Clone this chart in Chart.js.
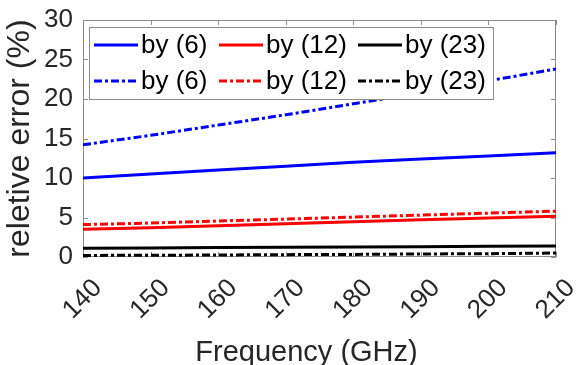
<!DOCTYPE html>
<html>
<head>
<meta charset="utf-8">
<script src="https://cdn.jsdelivr.net/npm/chart.js@4.4.1/dist/chart.umd.min.js"></script>
<style>
html, body { margin: 0; padding: 0; background: #fff; }
#wrap { width: 581px; height: 365px; }
</style>
</head>
<body>
<div id="wrap"><canvas id="errChart"></canvas></div>
<script>
// values, relative error in % vs frequency in GHz
var freqs = [140, 150, 160, 170, 180, 190, 200, 210];
var by6Solid = [10.0, 10.5, 11.0, 11.5, 12.0, 12.4, 12.8, 13.2];
var by12Solid = [3.5, 3.7, 3.95, 4.2, 4.45, 4.7, 4.95, 5.15];
var by23Solid = [1.1, 1.15, 1.2, 1.22, 1.27, 1.3, 1.35, 1.4];
var by6Dash = [14.2, 15.4, 16.7, 18.0, 19.4, 20.8, 22.3, 23.8];
var by12Dash = [4.1, 4.3, 4.55, 4.8, 5.05, 5.3, 5.55, 5.8];
var by23Dash = [0.2, 0.22, 0.25, 0.3, 0.33, 0.38, 0.42, 0.5];
var seriesLabels = ['by (6)', 'by (12)', 'by (23)', 'by (6)', 'by (12)', 'by (23)'];
var xTitle = 'Frequency (GHz)';
var yTitle = 'reletive error (%)';
var yMin = 0, yMax = 30, yStep = 5;
var xMin = 140, xMax = 210, xStep = 10;

var dashDot = [8, 3, 3, 3];
var fontFam = "'Liberation Sans', Arial, Helvetica, sans-serif";

function pts(vals) {
	return freqs.map(function(f, i) { return { x: f, y: vals[i] }; });
}

function mkSet(label, vals, color, dash) {
	return {
		label: label,
		data: pts(vals),
		borderColor: color,
		backgroundColor: color,
		borderWidth: 3,
		borderDash: dash,
		borderCapStyle: 'butt',
		pointRadius: 0,
		fill: false,
		tension: 0
	};
}

// inside tick marks, the gray box and the x title
var boxPlugin = {
	id: 'boxPlugin',
	beforeDatasetsDraw: function(chart) {
		var ctx = chart.ctx, a = chart.chartArea;
		var xs = chart.scales.x, ys = chart.scales.y;
		ctx.save();
		ctx.strokeStyle = '#8c8c8c';
		ctx.lineWidth = 1;
		ctx.beginPath();
		xs.ticks.forEach(function(t) {
			var px = Math.round(xs.getPixelForValue(t.value)) + 0.5;
			ctx.moveTo(px, a.bottom); ctx.lineTo(px, a.bottom - 5);
			ctx.moveTo(px, a.top); ctx.lineTo(px, a.top + 5);
		});
		ys.ticks.forEach(function(t) {
			var py = Math.round(ys.getPixelForValue(t.value)) + 0.5;
			ctx.moveTo(a.left, py); ctx.lineTo(a.left + 5, py);
			ctx.moveTo(a.right, py); ctx.lineTo(a.right - 5, py);
		});
		ctx.stroke();
		ctx.strokeRect(Math.round(a.left) + 0.5, Math.round(a.top) + 0.5,
			Math.round(a.right - a.left) - 1, Math.round(a.bottom - a.top) - 1);

		ctx.fillStyle = '#262626';
		ctx.font = '29px ' + fontFam;
		ctx.textAlign = 'center';
		ctx.textBaseline = 'alphabetic';
		ctx.fillText(xTitle, (a.left + a.right) / 2 - 13, chart.height - 4);
		ctx.restore();
	}
};

// legend in 3 columns x 2 rows inside the axes
var legendPlugin = {
	id: 'legendPlugin',
	afterDatasetsDraw: function(chart) {
		var ctx = chart.ctx, a = chart.chartArea;
		var bx = Math.round(a.left) + 6, by = Math.round(a.top) + 7, bw = 404, bh = 72;
		var colX = [5, 130, 269], rowY = [18, 54];
		ctx.save();
		ctx.fillStyle = '#fff';
		ctx.fillRect(bx, by, bw, bh);
		ctx.strokeStyle = '#8c8c8c';
		ctx.lineWidth = 1;
		ctx.strokeRect(bx + 0.5, by + 0.5, bw, bh);
		ctx.font = '26px ' + fontFam;
		ctx.textBaseline = 'middle';
		ctx.textAlign = 'left';
		chart.data.datasets.forEach(function(ds, i) {
			var x0 = bx + colX[i % 3], y0 = by + rowY[Math.floor(i / 3)];
			ctx.strokeStyle = ds.borderColor;
			ctx.lineWidth = 3;
			ctx.lineCap = 'butt';
			ctx.setLineDash(ds.borderDash || []);
			ctx.beginPath();
			ctx.moveTo(x0, y0);
			ctx.lineTo(x0 + 44, y0);
			ctx.stroke();
			ctx.setLineDash([]);
			ctx.fillStyle = '#000';
			ctx.fillText(ds.label, x0 + 47, y0 + 1);
		});
		ctx.restore();
	}
};

var ctx = document.getElementById('errChart');
var errChart = new Chart(ctx, {
	type: 'line',
	data: {
		datasets: [
			mkSet(seriesLabels[0], by6Solid, '#0000ff', []),
			mkSet(seriesLabels[1], by12Solid, '#ff0000', []),
			mkSet(seriesLabels[2], by23Solid, '#000000', []),
			mkSet(seriesLabels[3], by6Dash, '#0000ff', dashDot),
			mkSet(seriesLabels[4], by12Dash, '#ff0000', dashDot),
			mkSet(seriesLabels[5], by23Dash, '#000000', dashDot)
		]
	},
	options: {
		responsive: true,
		maintainAspectRatio: false,
		animation: false,
		layout: { padding: { left: 0, top: 20, right: 25, bottom: 0 } },
		plugins: {
			legend: { display: false },
			tooltip: { enabled: false }
		},
		scales: {
			x: {
				type: 'linear',
				min: xMin,
				max: xMax,
				grid: { display: false, drawTicks: false },
				border: { display: false },
				ticks: {
					stepSize: xStep,
					minRotation: 45,
					maxRotation: 45,
					padding: 16,
					labelOffset: 15,
					color: '#262626',
					font: { family: fontFam, size: 26 }
				},
				title: { display: false },
				afterFit: function(scale) {
					scale.height = 108;
					scale.paddingLeft = 0;
					scale.paddingRight = 0;
				}
			},
			y: {
				min: yMin,
				max: yMax,
				grid: { display: false, drawTicks: false },
				border: { display: false },
				ticks: {
					stepSize: yStep,
					padding: 10,
					color: '#262626',
					font: { family: fontFam, size: 26 }
				},
				title: {
					display: true,
					text: yTitle,
					color: '#262626',
					padding: { top: 1, bottom: 0 },
					font: { family: fontFam, size: 32 }
				},
				afterFit: function(scale) {
					scale.width = 83;
					scale.paddingTop = 0;
					scale.paddingBottom = 0;
				}
			}
		}
	},
	plugins: [boxPlugin, legendPlugin]
});
</script>
</body>
</html>
